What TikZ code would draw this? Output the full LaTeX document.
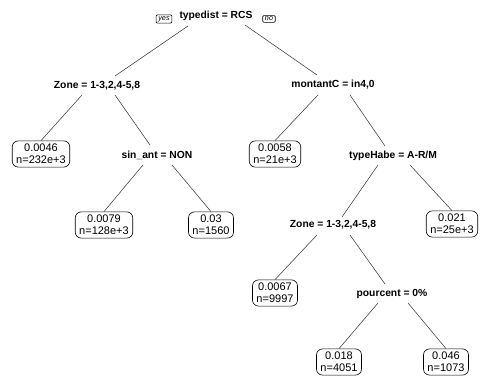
\documentclass[tikz,border=0pt]{standalone}
\usepackage{fontspec}
\setmainfont{Liberation Sans}
\usepackage{tikz}
\usetikzlibrary{positioning}
\definecolor{branchgray}{RGB}{60,60,60}

\tikzset{
  splitlabel/.style={inner sep=1pt, font=\fontsize{10.3}{12}\selectfont\bfseries},
  leafbox/.style={draw=black, line width=0.6pt, rounded corners=6pt, align=center,
    inner xsep=4pt, inner ysep=3.2pt, font=\fontsize{11}{12}\selectfont},
  yesno/.style={draw=black, line width=0.6pt, rounded corners=1pt, inner xsep=2.2pt,
    inner ysep=1.4pt, font=\fontsize{7.2}{8}\selectfont\itshape},
  branch/.style={draw=branchgray, line width=0.55pt}
}

\begin{document}
\begin{tikzpicture}[x=1pt, y=-1pt]
\useasboundingbox (0,0) rectangle (480,379);
% split labels
\node[splitlabel] (root) at (216,16) {typedist = RCS};
\node[yesno] (yes) at (164,19) {yes};
\node[yesno] (no) at (269,19) {no};
\node[splitlabel] (zoneA) at (97,86) {Zone = 1-3,2,4-5,8};
\node[splitlabel] (montant) at (333,85) {montantC = in4,0};
\node[splitlabel] (sinant) at (157,155) {sin\_ant = NON};
\node[splitlabel] (typehabe) at (393,156) {typeHabe = A-R/M};
\node[splitlabel] (zoneB) at (333,225) {Zone = 1-3,2,4-5,8};
\node[splitlabel] (pourcent) at (392,294) {pourcent = 0\%};
% leaves
\node[leafbox] (leafA) at (41,154) {0.0046\\n=232e+3};
\node[leafbox] (leafB) at (275,154) {0.0058\\n=21e+3};
\node[leafbox] (leafC) at (104,225) {0.0079\\n=128e+3};
\node[leafbox] (leafD) at (211,225) {0.03\\n=1560};
\node[leafbox] (leafE) at (452,224) {0.021\\n=25e+3};
\node[leafbox] (leafF) at (275,293) {0.0067\\n=9997};
\node[leafbox] (leafG) at (339,362) {0.018\\n=4051};
\node[leafbox] (leafH) at (446,362) {0.046\\n=1073};
% branches
\draw[branch] ([shift={(-28,10)}]root.center) -- ([shift={(18,-10)}]zoneA.center);
\draw[branch] ([shift={(29,9)}]root.center) -- ([shift={(-16,-10)}]montant.center);
\draw[branch] ([shift={(-15,9)}]zoneA.center) -- (leafA.north);
\draw[branch] ([shift={(18,9)}]zoneA.center) -- ([shift={(-7,-10)}]sinant.center);
\draw[branch] ([shift={(-14,10)}]sinant.center) -- (leafC.north);
\draw[branch] ([shift={(15,10)}]sinant.center) -- (leafD.north);
\draw[branch] ([shift={(-15,10)}]montant.center) -- (leafB.north);
\draw[branch] ([shift={(17,10)}]montant.center) -- ([shift={(-8,-10)}]typehabe.center);
\draw[branch] ([shift={(-15,9)}]typehabe.center) -- ([shift={(9,-8)}]zoneB.center);
\draw[branch] ([shift={(17,9)}]typehabe.center) -- (leafE.north);
\draw[branch] ([shift={(-16,10)}]zoneB.center) -- (leafF.north);
\draw[branch] ([shift={(17,10)}]zoneB.center) -- ([shift={(-7,-10)}]pourcent.center);
\draw[branch] ([shift={(-14,9)}]pourcent.center) -- (leafG.north);
\draw[branch] ([shift={(16,9)}]pourcent.center) -- (leafH.north);
\end{tikzpicture}
\end{document}
